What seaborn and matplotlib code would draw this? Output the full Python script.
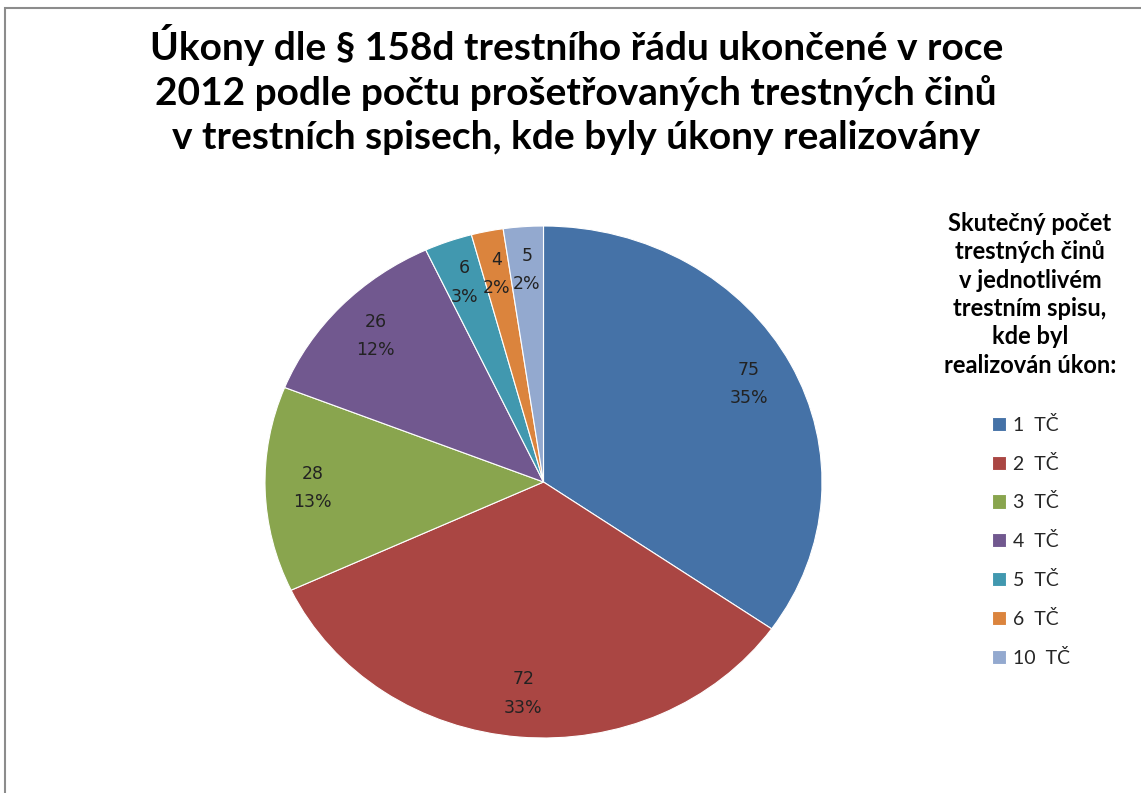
import numpy as np
import pandas as pd
import matplotlib
matplotlib.use("Agg")
import matplotlib.pyplot as plt
import seaborn as sns
from matplotlib.patches import Rectangle

# data
categories = ["1  TČ", "2  TČ", "3  TČ", "4  TČ", "5  TČ", "6  TČ", "10  TČ"]
values = [75, 72, 28, 26, 6, 4, 5]
colors = ["#4572A7", "#AA4643", "#89A54E", "#71588F", "#4198AF", "#DB843D", "#93A9CF"]

title = ("Úkony dle § 158d trestního řádu ukončené v roce\n"
         "2012 podle počtu prošetřovaných trestných činů\n"
         "v trestních spisech, kde byly úkony realizovány")
legend_title = ("Skutečný počet\ntrestných činů\nv jednotlivém\n"
                "trestním spisu,\nkde byl\nrealizován úkon:")

df = pd.DataFrame({"kategorie": categories, "pocet": values})

sns.set_theme(style="white")
plt.rcParams["font.family"] = ["DejaVu Sans"]
palette = sns.color_palette(colors)

fig = plt.figure(figsize=(11.41, 7.93), dpi=100)
ax = fig.add_axes([265 / 1141, 55 / 793, 557 / 1141, 512 / 793])

total = df["pocet"].sum()


def fmt(pct):
    val = int(round(pct * total / 100.0))
    return f"{val}\n{pct:.0f}%"


wedges, texts, autotexts = ax.pie(
    df["pocet"], colors=palette, startangle=90, counterclock=False,
    autopct=fmt, pctdistance=0.83, radius=1.0,
    wedgeprops=dict(edgecolor="white", linewidth=0.8),
    textprops=dict(fontsize=12.5, color="#222222", linespacing=1.75),
)
ax.set_aspect("auto")
ax.set_xlim(-1, 1)
ax.set_ylim(-1, 1)

fig.text(0.505, 1 - 24 / 793, title, ha="center", va="top", fontsize=28,
         fontweight="bold", family=["Lato", "DejaVu Sans"], linespacing=1.3,
         color="black")

# legend title as a separate text block
fig.text(1030 / 1141, 1 - 212 / 793, legend_title, ha="center", va="top",
         multialignment="center", fontsize=17, fontweight="bold",
         family=["Lato", "DejaVu Sans"], linespacing=1.28, color="black")

leg = fig.legend(wedges, df["kategorie"], loc="upper left",
                 bbox_to_anchor=(982 / 1141, 1 - 406 / 793), frameon=False,
                 fontsize=14, handlelength=0.75, handleheight=0.75,
                 handletextpad=0.35, labelspacing=1.07, borderpad=0)
for t in leg.get_texts():
    t.set_family(["Lato", "DejaVu Sans"])

# chart frame
fig.add_artist(Rectangle((5 / 1141, -0.05), 1.2, 1 - 8 / 793 + 0.05,
                         transform=fig.transFigure, fill=False,
                         edgecolor="#8c8c8c", linewidth=1.5))

fig.savefig("out.png", dpi=100)
